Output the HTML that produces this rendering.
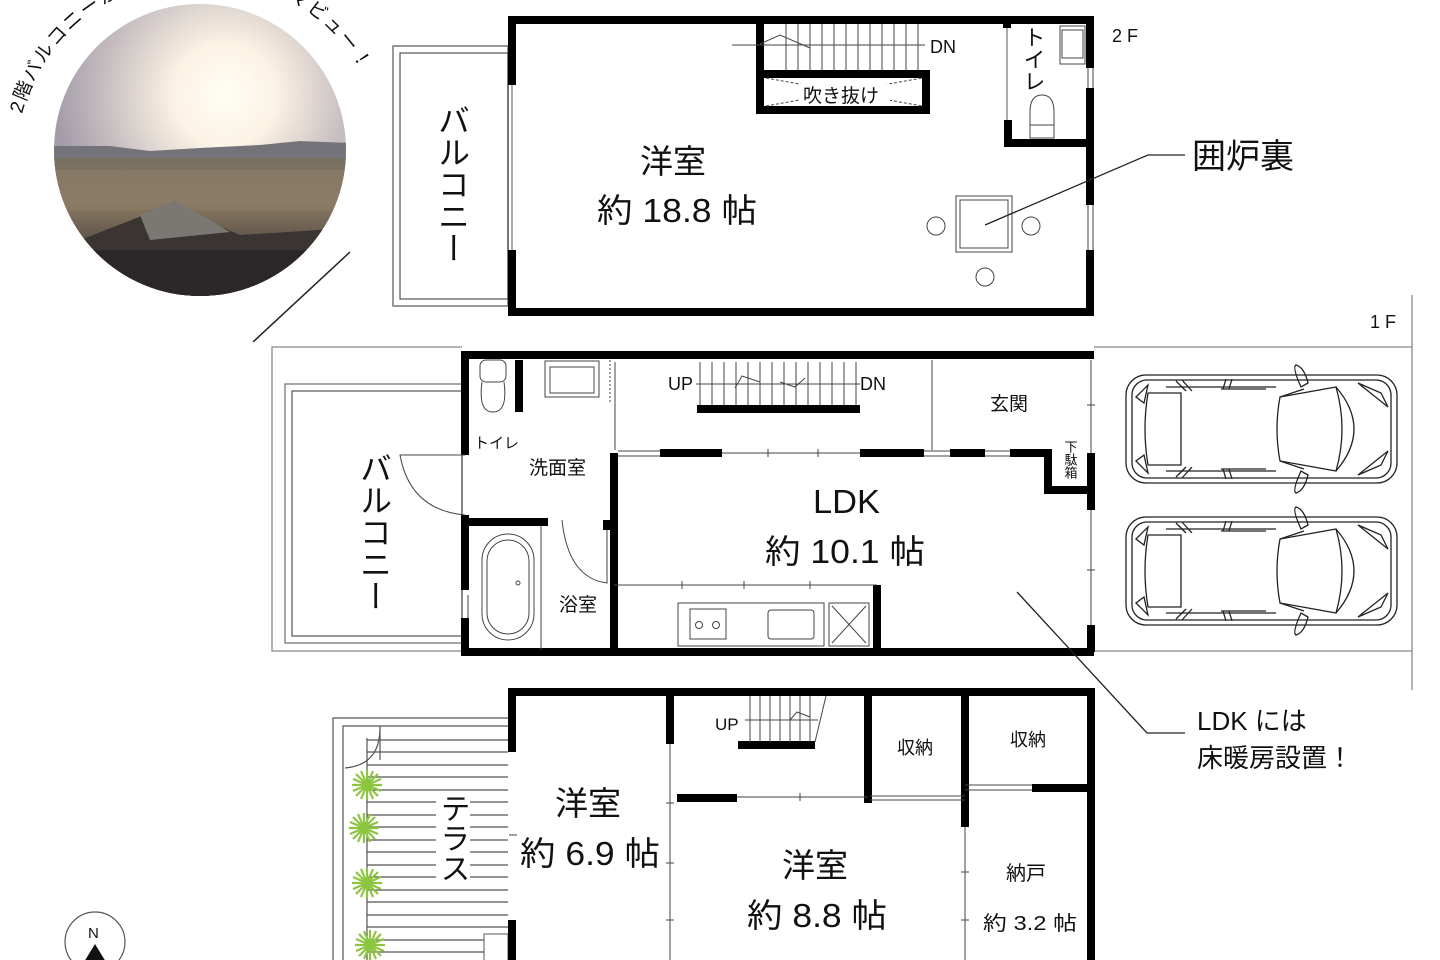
<!DOCTYPE html>
<html><head><meta charset="utf-8"><style>
html,body{margin:0;padding:0;background:#fff;}
svg{display:block;}
text{font-family:"Liberation Sans","Noto Sans CJK JP",sans-serif;fill:#111;}
.v{writing-mode:vertical-rl;}
</style></head><body>
<svg width="1440" height="960" viewBox="0 0 1440 960" xmlns="http://www.w3.org/2000/svg">
<defs>
<radialGradient id="sky" cx="225" cy="95" r="170" gradientUnits="userSpaceOnUse">
<stop offset="0" stop-color="#fffef6"/><stop offset="0.3" stop-color="#fbf3e4"/><stop offset="0.7" stop-color="#c8bfc2"/><stop offset="1" stop-color="#a39ca8"/>
</radialGradient>
<linearGradient id="city" x1="0" y1="0" x2="0" y2="1">
<stop offset="0" stop-color="#77705f"/><stop offset="0.3" stop-color="#8a7a62"/><stop offset="0.6" stop-color="#564c44"/><stop offset="1" stop-color="#2f2a29"/>
</linearGradient>
<clipPath id="cc"><circle cx="200" cy="150" r="146"/></clipPath>
<path id="arc" d="M 22 114 A 185 185 0 0 1 362 72"/>
<g id="car" fill="none" stroke="#222" stroke-width="1.3">
<rect x="0" y="0" width="271" height="108" rx="20"/>
<rect x="6" y="5" width="259" height="98" rx="15"/>
<path d="M22 18 L55 18 L55 90 L22 90 Q16 54 22 18Z"/>
<path d="M154 22 L210 12 Q222 54 210 96 L154 86 Q148 54 154 22Z"/>
<path d="M210 12 Q246 54 210 96"/>
<path d="M154 22 L178 14 M154 86 L178 94 M40 12 L150 12 M40 96 L150 96"/>
<path d="M175 12 Q166 -8 170 -10 Q178 -8 182 8Z M175 96 Q166 116 170 118 Q178 116 182 100Z"/>
<path d="M232 8 L255 18 L262 32Z M232 100 L255 90 L262 76Z M10 22 L22 10 L18 28Z M10 86 L22 98 L18 80Z"/>
<path d="M95 14 L140 14 M95 94 L140 94"/>
<path d="M50 6 L60 16 M56 5 L66 16 M100 4 L97 14 M106 4 L103 14 M50 102 L60 92 M56 103 L66 92 M100 104 L97 94 M106 104 L103 94"/>
</g>
<g id="plant" stroke="#8cc63f" stroke-width="2.2">
<line x1="-15" y1="0" x2="15" y2="0"/><line x1="0" y1="-15" x2="0" y2="15"/>
<line x1="-11" y1="-11" x2="11" y2="11"/><line x1="-11" y1="11" x2="11" y2="-11"/>
<line x1="-14" y1="-6" x2="14" y2="6"/><line x1="-14" y1="6" x2="14" y2="-6"/>
<line x1="-6" y1="-14" x2="6" y2="14"/><line x1="-6" y1="14" x2="6" y2="-14"/>
</g>
</defs>

<!-- photo -->
<g clip-path="url(#cc)">
<rect x="50" y="0" width="300" height="300" fill="url(#sky)"/>
<path d="M50 146 L110 146 L150 151 L200 148 L260 145 L300 141 L350 143 L350 300 L50 300Z" fill="#75737a"/>
<rect x="50" y="158" width="300" height="150" fill="url(#city)"/>
<rect x="50" y="170" width="300" height="40" fill="#8d7e68" opacity="0.5"/>
<path d="M80 240 L170 205 L240 235 L350 228 L350 300 L50 300 L50 245Z" fill="#3a3432"/>
<path d="M140 215 L175 200 L230 232 L150 240Z" fill="#7b7874"/>
<rect x="50" y="250" width="300" height="60" fill="#2b2728"/>
</g>
<text font-size="19" letter-spacing="2"><textPath href="#arc">2階バルコニーか</textPath></text>
<text font-size="19" letter-spacing="2" text-anchor="end"><textPath href="#arc" startOffset="100%">マビュー！</textPath></text>
<line x1="253" y1="342" x2="350" y2="252" stroke="#222" stroke-width="1.5"/>

<!-- ===== 2F ===== -->
<rect x="393" y="46" width="115" height="260" fill="none" stroke="#777" stroke-width="1.5"/>
<rect x="400" y="53" width="108" height="246" fill="none" stroke="#333" stroke-width="1"/>
<text class="v" x="452" y="104" font-size="32">バルコニー</text>
<g stroke="#000" stroke-width="8" fill="none">
<path d="M512 85 L512 20 L1090 20 L1090 68"/>
<path d="M512 250 L512 312 L1090 312 L1090 250"/>
<line x1="1090" y1="88" x2="1090" y2="205"/>
<path d="M760 20 L760 110 L926 110 L926 74 L760 74"/>
<path d="M1008 120 L1008 143 L1090 143"/>
<line x1="1007" y1="20" x2="1007" y2="28"/>
</g>
<line x1="512" y1="85" x2="512" y2="250" stroke="#555" stroke-width="1"/>
<line x1="1007" y1="28" x2="1007" y2="120" stroke="#555" stroke-width="1"/>
<g stroke="#444" stroke-width="1" fill="none">
<path d="M786 24V70M798 24V70M810 24V70M822 24V70M834 24V70M846 24V70M858 24V70M870 24V70M882 24V70M894 24V70M906 24V70M918 24V70"/>
<path d="M732 45 L925 45 M760 44 L780 35 L810 48"/>
<path d="M766 78 L922 106 M766 106 L922 78" stroke-dasharray="3 2"/>
<rect x="1060" y="26" width="25" height="38"/><rect x="1062" y="30" width="21" height="28"/>
<path d="M1030 128 L1030 112 Q1030 95 1042 95 Q1054 95 1054 112 L1054 138 L1030 138Z M1030 125 L1054 125"/>
<rect x="956" y="196" width="56" height="56"/><rect x="960" y="200" width="48" height="48"/>
<circle cx="936" cy="226" r="9"/><circle cx="1031" cy="226" r="9"/><circle cx="985" cy="277" r="9"/>
<line x1="1088" y1="68" x2="1088" y2="88"/><line x1="1093" y1="68" x2="1093" y2="88"/>
<line x1="1088" y1="205" x2="1088" y2="250"/><line x1="1093" y1="205" x2="1093" y2="250"/>
</g>
<rect x="800" y="84" width="90" height="20" fill="#fff"/>
<text x="803" y="102" font-size="19">吹き抜け</text>
<text x="930" y="53" font-size="18">DN</text>
<text class="v" x="1033" y="26" font-size="22">トイレ</text>
<text x="1112" y="42" font-size="18">2 F</text>
<text x="640" y="173" font-size="33">洋室</text>
<text x="597" y="222" font-size="33" textLength="160" lengthAdjust="spacingAndGlyphs">約 18.8 帖</text>
<path d="M985 225 L1148 155 L1185 155" stroke="#222" stroke-width="1.3" fill="none"/>
<text x="1192" y="168" font-size="34">囲炉裏</text>

<!-- ===== 1F ===== -->
<g fill="none" stroke="#888" stroke-width="1.3">
<path d="M462 347 L272 347 L272 651 L462 651"/>
<line x1="1094" y1="347" x2="1412" y2="347"/>
<line x1="1094" y1="651" x2="1412" y2="651"/>
<line x1="1412" y1="295" x2="1412" y2="690"/>
<rect x="285" y="384" width="177" height="259" stroke="#777"/>
<rect x="292" y="391" width="170" height="245" stroke="#333" stroke-width="1"/>
</g>
<text x="1370" y="328" font-size="18">1 F</text>
<use href="#car" x="1126" y="375"/>
<use href="#car" x="1126" y="517"/>
<text class="v" x="374" y="452" font-size="32">バルコニー</text>
<g stroke="#000" stroke-width="8" fill="none">
<path d="M465 455 L465 355 L1094 355"/>
<path d="M465 515 L465 590 M465 618 L465 652 L1094 652"/>
<line x1="519" y1="360" x2="519" y2="412"/>
<path d="M465 522 L548 522"/>
<line x1="607" y1="520" x2="607" y2="530"/>
<line x1="614" y1="453" x2="614" y2="652"/>
<line x1="697" y1="409" x2="860" y2="409"/>
<line x1="660" y1="453" x2="722" y2="453"/>
<line x1="860" y1="453" x2="924" y2="453"/><line x1="950" y1="453" x2="985" y2="453"/>
<path d="M1010 453 L1048 453 L1048 490 L1088 490"/>
<path d="M1091 453 L1091 510 M1091 625 L1091 652"/>
<line x1="877" y1="585" x2="877" y2="652"/>
</g>
<g stroke="#444" stroke-width="1" fill="none">
<path d="M700 362V405M712 362V405M724 362V405M736 362V405M748 362V405M760 362V405M772 362V405M784 362V405M796 362V405M808 362V405M820 362V405M832 362V405M844 362V405M856 362V405"/>
<path d="M696 384 L860 384 M735 388 L742 376 L760 382 M780 382 L795 387 L805 378"/>
<line x1="615" y1="362" x2="615" y2="450"/>
<line x1="932" y1="360" x2="932" y2="450"/>
<line x1="1091" y1="360" x2="1091" y2="453"/>
<line x1="1091" y1="510" x2="1091" y2="625"/>
<path d="M722 453 L860 453 M768 449V457 M818 449V457 M1087 405H1095 M1087 570H1095"/>
<path d="M924 451H950 M924 456H950 M985 451H1010 M985 456H1010 M618 451H660 M618 456H660"/>
<path d="M614 585 L877 585 M682 581V589 M744 581V589 M810 581V589"/>
<rect x="678" y="603" width="146" height="43"/><rect x="690" y="609" width="36" height="30"/>
<circle cx="699" cy="625" r="3.5"/><circle cx="716" cy="625" r="3.5"/>
<rect x="768" y="610" width="46" height="29" rx="3"/>
<rect x="829" y="603" width="40" height="43"/><path d="M832 606 L866 643 M866 606 L832 643"/>
<rect x="480" y="360" width="26" height="22" rx="6"/>
<path d="M482 382 Q478 412 493 412 Q508 412 504 382"/>
<rect x="545" y="361" width="54" height="36"/><rect x="550" y="367" width="44" height="26"/>
<line x1="610" y1="360" x2="610" y2="402" stroke-dasharray="2 2"/>
<path d="M465 455 L400 455 Q410 510 465 515"/>
<path d="M562 520 Q568 578 607 583 L607 530"/>
<rect x="482" y="534" width="52" height="106" rx="26"/><rect x="487" y="540" width="42" height="94" rx="21"/>
<circle cx="518" cy="583" r="2"/>
<line x1="541" y1="526" x2="541" y2="650"/>
<path d="M462 595V618M468 595V618"/>
</g>
<text x="668" y="390" font-size="18">UP</text>
<text x="860" y="390" font-size="18">DN</text>
<text x="990" y="410" font-size="19">玄関</text>
<text class="v" x="1070" y="440" font-size="13">下駄箱</text>
<text x="474" y="448" font-size="15">トイレ</text>
<text x="529" y="474" font-size="19">洗面室</text>
<text x="559" y="611" font-size="19">浴室</text>
<text x="813" y="513" font-size="33" textLength="67" lengthAdjust="spacingAndGlyphs">LDK</text>
<text x="765" y="563" font-size="33" textLength="160" lengthAdjust="spacingAndGlyphs">約 10.1 帖</text>
<path d="M1017 592 L1147 733 L1185 733" stroke="#222" stroke-width="1.3" fill="none"/>
<text x="1197" y="730" font-size="26">LDK には</text>
<text x="1197" y="767" font-size="26">床暖房設置！</text>

<!-- ===== lower floor ===== -->
<g stroke="#555" stroke-width="1.2" fill="none">
<path d="M510 718 L333 718 L333 960"/>
<path d="M510 726 L343 726 L343 960"/>
<path d="M380 726 L380 760 M345 768 Q380 765 380 728"/>
</g>
<g stroke="#555" stroke-width="1.2">
<path d="M367 740H508M367 752H508M367 765H508M367 777H508M367 790H508M367 802H508M367 815H508M367 827H508M367 840H508M367 852H508M367 865H508M367 877H508M367 890H508M367 902H508M367 915H508M367 927H508M367 940H508M367 952H508"/>
<line x1="367" y1="738" x2="367" y2="960"/>
</g>
<rect x="436" y="792" width="34" height="96" fill="#fff"/>
<rect x="484" y="934" width="24" height="30" fill="#fff" stroke="#555"/>
<use href="#plant" x="367" y="785"/><use href="#plant" x="364" y="828"/><use href="#plant" x="367" y="883"/><use href="#plant" x="370" y="945"/>
<text class="v" x="452" y="793" font-size="30">テラス</text>
<g stroke="#000" stroke-width="8" fill="none">
<path d="M512 752 L512 692 L1091 692 L1091 960"/>
<line x1="512" y1="920" x2="512" y2="960"/>
<line x1="670" y1="692" x2="670" y2="744"/>
<line x1="868" y1="692" x2="868" y2="803"/>
<line x1="965" y1="692" x2="965" y2="827"/>
<line x1="1032" y1="788" x2="1091" y2="788"/>
<line x1="738" y1="745" x2="815" y2="745"/>
<line x1="677" y1="798" x2="737" y2="798"/>
</g>
<g stroke="#444" stroke-width="1" fill="none">
<path d="M750 696V742M760 696V742M770 696V742M780 696V742M790 696V742M800 696V742M810 696V742"/>
<path d="M745 720 L818 720 M790 720 L797 712 L810 717 M826 696 L815 742"/>
<line x1="670" y1="744" x2="670" y2="960"/>
<path d="M666 803H674M666 863H674M666 920H674M509 835H517"/>
<path d="M737 797 L868 797 M800 793V801 M870 800 L965 800 M870 796 L965 796"/>
<path d="M965 785 L1032 785 M965 790 L1032 790"/>
<line x1="965" y1="827" x2="965" y2="960"/>
<path d="M961 872H969M961 920H969"/>
</g>
<text x="715" y="730" font-size="17">UP</text>
<text x="897" y="754" font-size="18">収納</text>
<text x="1010" y="746" font-size="18">収納</text>
<text x="555" y="815" font-size="33">洋室</text>
<text x="520" y="865" font-size="33" textLength="140" lengthAdjust="spacingAndGlyphs">約 6.9 帖</text>
<text x="782" y="877" font-size="33">洋室</text>
<text x="747" y="927" font-size="33" textLength="140" lengthAdjust="spacingAndGlyphs">約 8.8 帖</text>
<text x="1006" y="880" font-size="20">納戸</text>
<text x="983" y="930" font-size="20" textLength="94" lengthAdjust="spacingAndGlyphs">約 3.2 帖</text>

<!-- compass -->
<circle cx="95" cy="942" r="30" fill="none" stroke="#555" stroke-width="1.2"/>
<text x="88" y="938" font-size="15">N</text>
<path d="M95 944 L84 962 L106 962Z" fill="#111"/>
</svg>
</body></html>
